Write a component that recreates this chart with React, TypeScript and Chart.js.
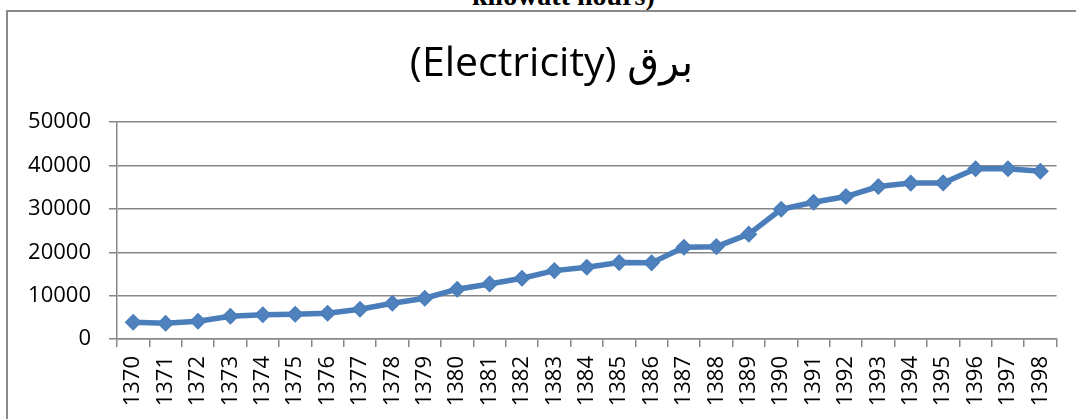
import React, { useEffect, useRef } from "react";
import { Chart, registerables } from "chart.js";

Chart.register(...registerables);

const years: string[] = [
  "1370", "1371", "1372", "1373", "1374", "1375", "1376", "1377", "1378", "1379",
  "1380", "1381", "1382", "1383", "1384", "1385", "1386", "1387", "1388", "1389",
  "1390", "1391", "1392", "1393", "1394", "1395", "1396", "1397", "1398",
];

const electricity: number[] = [
  3860, 3630, 4090, 5260, 5580, 5720, 5940, 6860, 8240, 9400,
  11480, 12700, 14020, 15770, 16560, 17620, 17560, 21160, 21300, 24180,
  29930, 31550, 32850, 35170, 35950, 36000, 39250, 39250, 38700,
];

const chartTitle = "(Electricity) برق";
const topCaption = "kilowatt hours)";
const yMin = 0;
const yMax = 50000;
const yStep = 10000;

const shiftTitle = {
  id: "shiftTitle",
  afterLayout(chart: any) {
    const t = chart.titleBlock;
    if (t) {
      t.left += 20;
      t.right += 20;
    }
  },
};

export default function App() {
  const ref = useRef<HTMLCanvasElement | null>(null);

  useEffect(() => {
    if (!ref.current) return;
    const grid = "#878787";
    const chart = new Chart(ref.current, {
      type: "line",
      data: {
        labels: years,
        datasets: [
          {
            data: electricity,
            borderColor: "#4A7EBB",
            backgroundColor: "#4A7EBB",
            borderWidth: 5.5,
            tension: 0,
            pointStyle: "rectRot",
            pointRadius: 7.5,
            pointBorderWidth: 1.5,
            pointBackgroundColor: "#4F81BD",
            pointBorderColor: "#4A7EBB",
          },
        ],
      },
      plugins: [shiftTitle],
      options: {
        responsive: false,
        animation: false,
        layout: { padding: { left: 0, right: 13, top: 0, bottom: 0 } },
        plugins: {
          legend: { display: false },
          tooltip: { enabled: false },
          title: {
            display: true,
            text: chartTitle,
            color: "#000",
            font: { family: "'Open Sans', 'DejaVu Sans', sans-serif", size: 41, weight: "normal" },
            padding: { top: 40, bottom: 33 },
          },
        },
        scales: {
          x: {
            type: "category",
            offset: true,
            afterFit: (s: any) => {
              s.height = 80;
            },
            grid: {
              display: true,
              drawOnChartArea: false,
              drawTicks: true,
              tickLength: 8,
              offset: true,
              color: grid,
              lineWidth: 1.5,
            },
            border: { display: true, color: grid, width: 1.5 },
            ticks: {
              autoSkip: false,
              minRotation: 90,
              maxRotation: 90,
              padding: 9,
              color: "#000",
              font: { family: "'Open Sans', sans-serif", size: 22 },
            },
          },
          y: {
            min: yMin,
            max: yMax,
            afterFit: (s: any) => {
              s.width = 117;
            },
            grid: {
              color: grid,
              lineWidth: 1.5,
              drawTicks: true,
              tickLength: 8,
            },
            border: { display: true, color: grid, width: 1.5 },
            ticks: {
              stepSize: yStep,
              padding: 18,
              color: "#000",
              font: { family: "'Open Sans', sans-serif", size: 22 },
              callback: (v: any) => String(v),
            },
          },
        },
      },
    } as any);
    return () => chart.destroy();
  }, []);

  return (
    <div
      style={{
        position: "fixed",
        left: 0,
        top: 0,
        width: 1076,
        height: 419,
        overflow: "hidden",
        background: "#fff",
      }}
    >
      <div
        style={{
          position: "absolute",
          left: 472,
          top: -18,
          fontFamily: "'Liberation Serif', 'Times New Roman', serif",
          fontWeight: "bold",
          fontSize: 28,
          lineHeight: "28px",
          whiteSpace: "nowrap",
          color: "#000",
        }}
      >
        {topCaption}
      </div>
      <div
        style={{
          position: "absolute",
          left: 6,
          top: 10,
          width: 1200,
          height: 600,
          border: "2px solid #8a8a8a",
        }}
      />
      <canvas
        ref={ref}
        width={1076}
        height={419}
        style={{ position: "absolute", left: 0, top: 0, width: 1076, height: 419, display: "block" }}
      />
    </div>
  );
}
